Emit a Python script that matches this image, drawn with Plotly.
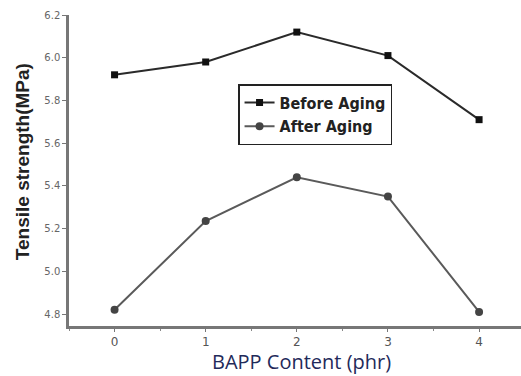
import plotly.graph_objects as go

# BAPP content (phr) and tensile strength (MPa)
bapp_content = [0, 1, 2, 3, 4]
before_aging = [5.92, 5.98, 6.12, 6.01, 5.71]
after_aging = [4.82, 5.235, 5.44, 5.35, 4.81]
y_ticks = [4.8, 5.0, 5.2, 5.4, 5.6, 5.8, 6.0, 6.2]

fig = go.Figure()
fig.add_trace(go.Scatter(
    x=bapp_content, y=before_aging, name="<b>Before Aging</b>",
    mode="lines+markers",
    line=dict(color="#2a2a2a", width=2),
    marker=dict(symbol="square", size=7, color="#111111"),
))
fig.add_trace(go.Scatter(
    x=bapp_content, y=after_aging, name="<b>After Aging</b>",
    mode="lines+markers",
    line=dict(color="#5a5a5a", width=2),
    marker=dict(symbol="circle", size=8, color="#444444"),
))

fig.update_layout(
    width=521, height=376,
    margin=dict(l=69, r=0, t=15, b=50),
    paper_bgcolor="white", plot_bgcolor="white",
    showlegend=True,
    legend=dict(
        x=0.374, y=0.778, xanchor="left", yanchor="top",
        bordercolor="#222222", borderwidth=1.5, bgcolor="white",
        font=dict(family="DejaVu Sans Condensed", size=16, color="#222222"),
        tracegroupgap=0, itemwidth=30,
    ),
    xaxis=dict(
        range=[-0.5, 4.46], tickvals=bapp_content,
        showgrid=False, zeroline=False,
        showline=True, linecolor="#777777", linewidth=2.5,
        ticks="outside", ticklen=3, tickcolor="#777777",
        tickfont=dict(family="DejaVu Sans", size=12, color="#555555"),
        minor=dict(dtick=0.5, ticks="outside", ticklen=2, tickcolor="#888888"),
    ),
    yaxis=dict(
        range=[4.744, 6.2], tickvals=y_ticks,
        tickformat=".1f",
        showgrid=False, zeroline=False,
        showline=True, linecolor="#777777", linewidth=2.5,
        ticks="outside", ticklen=4, tickcolor="#777777",
        tickfont=dict(family="DejaVu Sans", size=10, color="#666666"),
    ),
    annotations=[
        dict(text="BAPP Content (phr)", xref="paper", yref="paper",
             x=0.514, y=-0.113, xanchor="center", yanchor="middle",
             showarrow=False,
             font=dict(family="Open Sans", size=20, color="#1f2a5a")),
        dict(text="<b>Tensile strength(MPa)</b>", xref="paper", yref="paper",
             x=-0.104, y=0.53, xanchor="center", yanchor="middle",
             textangle=-90, showarrow=False,
             font=dict(family="Liberation Sans", size=19, color="#222222")),
    ],
)

fig.write_html("out.html")
